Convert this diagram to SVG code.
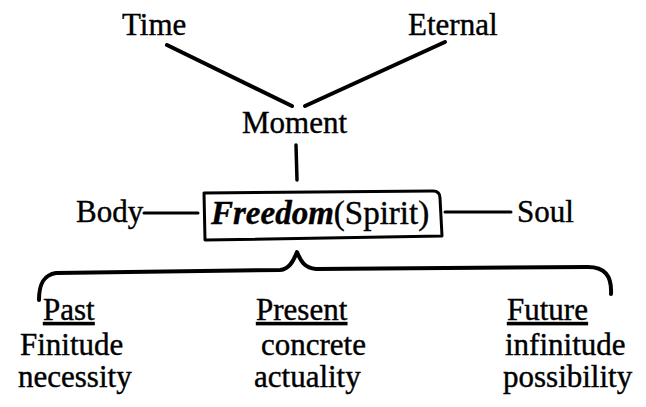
<svg xmlns="http://www.w3.org/2000/svg" width="646" height="407" viewBox="0 0 646 407">
<defs>
<style>
.ink{fill:none;stroke:#000;stroke-linecap:round;stroke-linejoin:round}
</style>
</defs>
<rect width="646" height="407" fill="#fff"/>
<g id="connectors">
<path class="ink" d="M167 45 L292 106" stroke-width="4"/>
<path class="ink" d="M445 42 L305 106" stroke-width="4"/>
<path class="ink" d="M296 145 L297 180" stroke-width="3.5"/>
<path class="ink" d="M144 213 L198 213" stroke-width="3"/>
<path class="ink" d="M445 212 L511 212" stroke-width="3"/>
<path class="ink" d="M39 300 C39 285 43 275 56 273 L280 270 C289 269 293 262 297 252 C301 262 305 268 316 269 L588 267 C604 267 612 275 611 294" stroke-width="4"/>
</g>
<g font-family="Liberation Serif" font-size="31" fill="#000" stroke="#000" stroke-width="0.4">
<g id="time"><text x="122" y="35">Time</text></g>
<g id="eternal"><text x="408" y="35">Eternal</text></g>
<g id="moment"><text x="242" y="133">Moment</text></g>
<g id="body"><text x="76" y="222">Body</text></g>
<g id="freedom">
<path class="ink" d="M204 193 L433 191 Q440 191 440 198 L442 236 L205 240 Z" stroke-width="3"/>
<text x="211" y="224" font-size="33"><tspan font-weight="bold" font-style="italic">Freedom</tspan>(Spirit)</text>
</g>
<g id="soul"><text x="517" y="222">Soul</text></g>
<g id="past">
<text x="43" y="320" text-decoration="underline">Past</text>
<text x="20" y="355">Finitude</text>
<text x="18" y="387">necessity</text>
</g>
<g id="present">
<text x="256" y="320" text-decoration="underline">Present</text>
<text x="261" y="355">concrete</text>
<text x="254" y="387">actuality</text>
</g>
<g id="future">
<text x="507" y="320" text-decoration="underline">Future</text>
<text x="505" y="355">infinitude</text>
<text x="503" y="387">possibility</text>
</g>
</g>
</svg>
